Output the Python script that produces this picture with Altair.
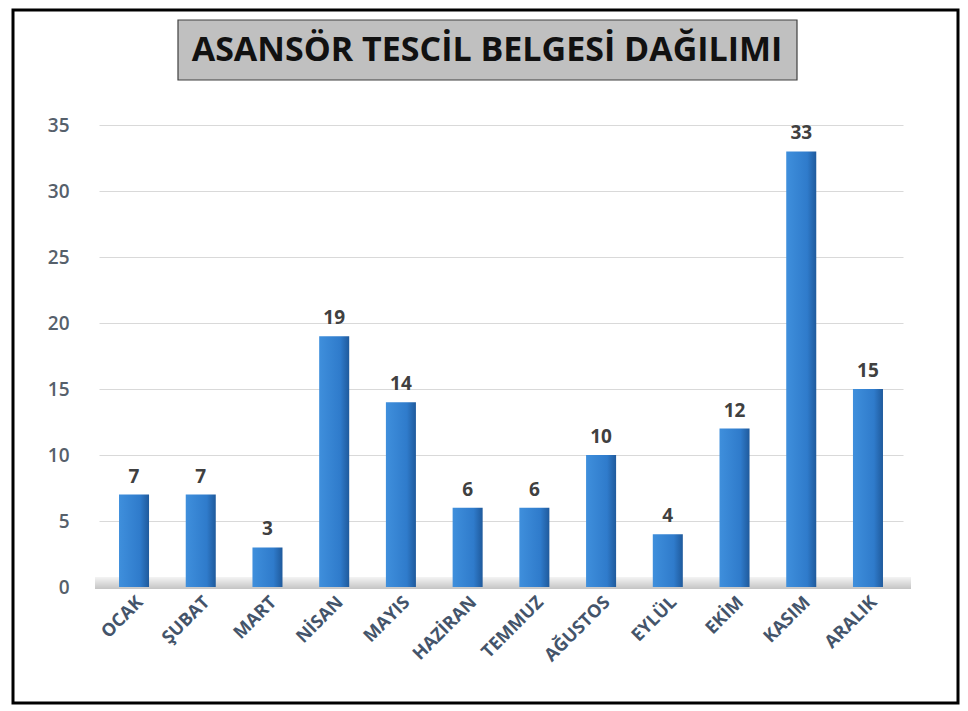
import altair as alt
import pandas as pd

months = ["OCAK", "ŞUBAT", "MART", "NİSAN", "MAYIS", "HAZİRAN", "TEMMUZ",
          "AĞUSTOS", "EYLÜL", "EKİM", "KASIM", "ARALIK"]
counts = [7, 7, 3, 19, 14, 6, 6, 10, 4, 12, 33, 15]
title_text = "ASANSÖR TESCİL BELGESİ DAĞILIMI"

df = pd.DataFrame({"ay": months, "adet": counts})

W, H = 804, 462
xenc = alt.X("ay:N", sort=months, title=None,
             scale=alt.Scale(paddingInner=0.55, paddingOuter=0.3),
             axis=alt.Axis(labelAngle=-45, labelAlign="right", labelBaseline="top",
                           labelFont="Open Sans", labelFontWeight="bold", labelFontSize=18,
                           labelColor="#44546A", domain=False, ticks=False, labelPadding=6))
yenc = alt.Y("adet:Q", title=None,
             scale=alt.Scale(domain=[0, 35], nice=False),
             axis=alt.Axis(values=[0, 5, 10, 15, 20, 25, 30, 35], domain=False, ticks=False,
                           labelFont="Open Sans", labelFontSize=19, labelFontWeight=600,
                           labelColor="#56606b",
                           labelPadding=30, grid=True, gridColor="#d9d9d9", gridWidth=1.2))

base = alt.Chart(df)

floor_df = pd.DataFrame({"k": [0]})
floor = alt.Chart(floor_df).mark_rect(
    color=alt.Gradient(gradient="linear", x1=0, x2=0, y1=0, y2=1,
                       stops=[alt.GradientStop(color="#f4f4f4", offset=0),
                              alt.GradientStop(color="#c4c4c4", offset=1)])).encode(
    x=alt.value(-4), x2=alt.value(812), y=alt.value(H - 10), y2=alt.value(H + 2))

bars = base.mark_bar(
    color=alt.Gradient(gradient="linear", x1=0, x2=1, y1=0, y2=0,
                       stops=[alt.GradientStop(color="#3f8fdc", offset=0),
                              alt.GradientStop(color="#2f7bcb", offset=0.7),
                              alt.GradientStop(color="#1f5a9c", offset=1)]),
    cornerRadius=0,
).encode(x=xenc, y=yenc)

labels = base.mark_text(dy=-18, font="Open Sans", fontWeight="bold", fontSize=19,
                        color="#404040").encode(
    x=alt.X("ay:N", sort=months), y="adet:Q", text="adet:Q")

frame = alt.Chart(floor_df).mark_rect(fill=None, stroke="#000000", strokeWidth=3).encode(
    x=alt.value(-86), x2=alt.value(859), y=alt.value(-115), y2=alt.value(578))

tbox = alt.Chart(floor_df).mark_rect(fill="#c0c0c0", stroke="#404040", strokeWidth=1.2).encode(
    x=alt.value(79), x2=alt.value(698), y=alt.value(-105), y2=alt.value(-45))

ttext = alt.Chart(pd.DataFrame({"t": [title_text]})).mark_text(
    font="Open Sans", fontWeight="bold", fontSize=34, color="#111111",
    align="center", baseline="middle").encode(
    x=alt.value(388), y=alt.value(-74), text="t:N")

chart = alt.layer(floor, bars, labels, frame, tbox, ttext).properties(
    width=W, height=H,
    autosize=alt.AutoSizeParams(type="none"),
    padding={"left": 91, "top": 117, "right": 57, "bottom": 118},
).configure(background="#ffffff").configure_view(stroke=None)

chart.save("out.html", embed_options={"renderer": "svg", "actions": False})
